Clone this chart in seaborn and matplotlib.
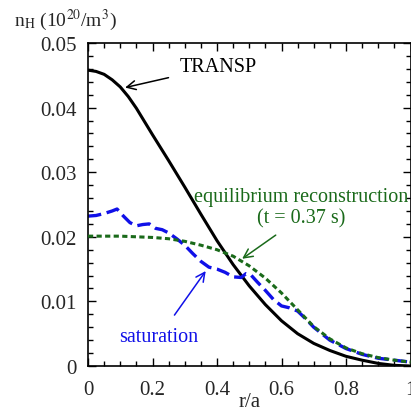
import numpy as np
import pandas as pd
import matplotlib
matplotlib.use("Agg")
import matplotlib.pyplot as plt
import seaborn as sns
from matplotlib.ticker import MultipleLocator

# ---- data ----
r_transp = [0, 0.025, 0.05, 0.075, 0.1, 0.125, 0.15, 0.2, 0.25, 0.3, 0.35, 0.4, 0.45,
            0.5, 0.55, 0.6, 0.65, 0.7, 0.75, 0.8, 0.85, 0.9, 0.95, 1.0]
n_transp = [0.0458, 0.0456, 0.04515, 0.0443, 0.0432, 0.0417, 0.0399, 0.0358, 0.0318,
            0.0277, 0.0235, 0.0194, 0.0157, 0.0124, 0.0095, 0.0070, 0.0050, 0.0035,
            0.0024, 0.0015, 0.0009, 0.0004, 0.0001, 0.0]

r_equil = [0, 0.05, 0.1, 0.15, 0.2, 0.25, 0.3, 0.35, 0.4, 0.45, 0.5, 0.55, 0.6,
           0.65, 0.7, 0.75, 0.8, 0.85, 0.9, 0.95, 1.0]
n_equil = [0.0201, 0.0201, 0.0201, 0.0200, 0.0199, 0.0197, 0.0193, 0.0187, 0.0180,
           0.0170, 0.0155, 0.0136, 0.0113, 0.0087, 0.0061, 0.0042, 0.0028, 0.0019,
           0.0013, 0.0009, 0.0006]

r_sat = [0, 0.025, 0.05, 0.075, 0.09, 0.11, 0.13, 0.15, 0.17, 0.19, 0.21, 0.23,
         0.25, 0.275, 0.3, 0.325, 0.35, 0.375, 0.4, 0.425, 0.45, 0.475, 0.49, 0.505,
         0.525, 0.55, 0.575, 0.6, 0.625, 0.65, 0.675, 0.7, 0.75, 0.8, 0.85, 0.9,
         0.95, 1.0]
n_sat = [0.0232, 0.0233, 0.0236, 0.0240, 0.0243, 0.0232, 0.0222, 0.0217, 0.0219,
         0.0220, 0.0213, 0.0211, 0.0206, 0.0197, 0.0187, 0.0174, 0.0162, 0.0153,
         0.0150, 0.0145, 0.0138, 0.0137, 0.0143, 0.0141, 0.0130, 0.0117, 0.0103,
         0.0093, 0.0090, 0.0085, 0.0073, 0.0060, 0.0040, 0.0027, 0.0018, 0.0012,
         0.0009, 0.0006]

x_ticks = [0, 0.2, 0.4, 0.6, 0.8, 1]
x_ticklabels = ["0", "0.2", "0.4", "0.6", "0.8", "1"]
y_ticks = [0, 0.01, 0.02, 0.03, 0.04, 0.05]
y_ticklabels = ["0", "0.01", "0.02", "0.03", "0.04", "0.05"]

BLACK = "#000000"
GREEN = "#1a6a1a"
BLUE = "#1010e8"

sns.set_style("ticks")
plt.rcParams["font.family"] = ["Liberation Serif", "DejaVu Serif"]
plt.rcParams["mathtext.fontset"] = "stix"

fig = plt.figure(figsize=(4.11, 4.14), dpi=100)
ax = fig.add_axes([88 / 411, 47 / 414, 322.5 / 411, 323 / 414])

df_t = pd.DataFrame({"r": r_transp, "n": n_transp})
df_e = pd.DataFrame({"r": r_equil, "n": n_equil})
df_s = pd.DataFrame({"r": r_sat, "n": n_sat})

sns.lineplot(data=df_t, x="r", y="n", ax=ax, color=BLACK, lw=2.2)
l_e = sns.lineplot(data=df_e, x="r", y="n", ax=ax, color=GREEN, lw=2.2).lines[-1]
l_e.set_dashes([1.7, 1.1])
l_s = sns.lineplot(data=df_s, x="r", y="n", ax=ax, color=BLUE, lw=2.4).lines[-1]
l_s.set_dashes([4.0, 1.7])
ax.lines[1].set_zorder(3)
ax.lines[2].set_zorder(2.5)

ax.set_xlim(0, 1)
ax.set_ylim(0, 0.05)
ax.set_xticks(x_ticks)
ax.set_xticklabels(x_ticklabels)
ax.set_yticks(y_ticks)
ax.set_yticklabels(y_ticklabels)
ax.xaxis.set_minor_locator(MultipleLocator(0.05))
ax.yaxis.set_minor_locator(MultipleLocator(0.002))
ax.tick_params(which="both", direction="in", top=True, right=True, width=1.0,
               labelsize=15, color="black")
ax.tick_params(which="major", length=6)
ax.tick_params(axis="x", which="major", pad=10)
ax.tick_params(axis="y", which="major", pad=8)
ax.tick_params(which="minor", length=3.5)
for s in ax.spines.values():
    s.set_linewidth(1.2)
    s.set_color("black")

ax.set_xlabel("r/a", fontsize=15, labelpad=-5)
ax.set_ylabel("")
fig.text(14 / 411, 1 - 20 / 414, r"n$_{\mathrm{H}}$ (10$^{20}$/m$^3$)", fontsize=14,
         ha="left", va="center")

ax.annotate("TRANSP", xy=(0.115, 0.0431), xytext=(0.285, 0.0464),
            fontsize=14.5, color=BLACK, ha="left", va="center",
            arrowprops=dict(arrowstyle="->", color=BLACK, lw=1.1,
                            shrinkA=6, shrinkB=0, mutation_scale=16))
ax.text(0.66, 0.0263, "equilibrium reconstruction", fontsize=14.5, color=GREEN,
        ha="center", va="center")
ax.annotate("(t = 0.37 s)", xy=(0.478, 0.0166), xytext=(0.66, 0.0230),
            fontsize=14.5, color=GREEN, ha="center", va="center",
            arrowprops=dict(arrowstyle="->", color=GREEN, lw=1.1,
                            shrinkA=6, shrinkB=0, mutation_scale=16))
ax.annotate("saturation", xy=(0.365, 0.0147), xytext=(0.22, 0.0045),
            fontsize=14.5, color=BLUE, ha="center", va="center",
            arrowprops=dict(arrowstyle="->", color=BLUE, lw=1.1,
                            shrinkA=8, shrinkB=0, mutation_scale=16))

fig.savefig("out.png", dpi=100)
